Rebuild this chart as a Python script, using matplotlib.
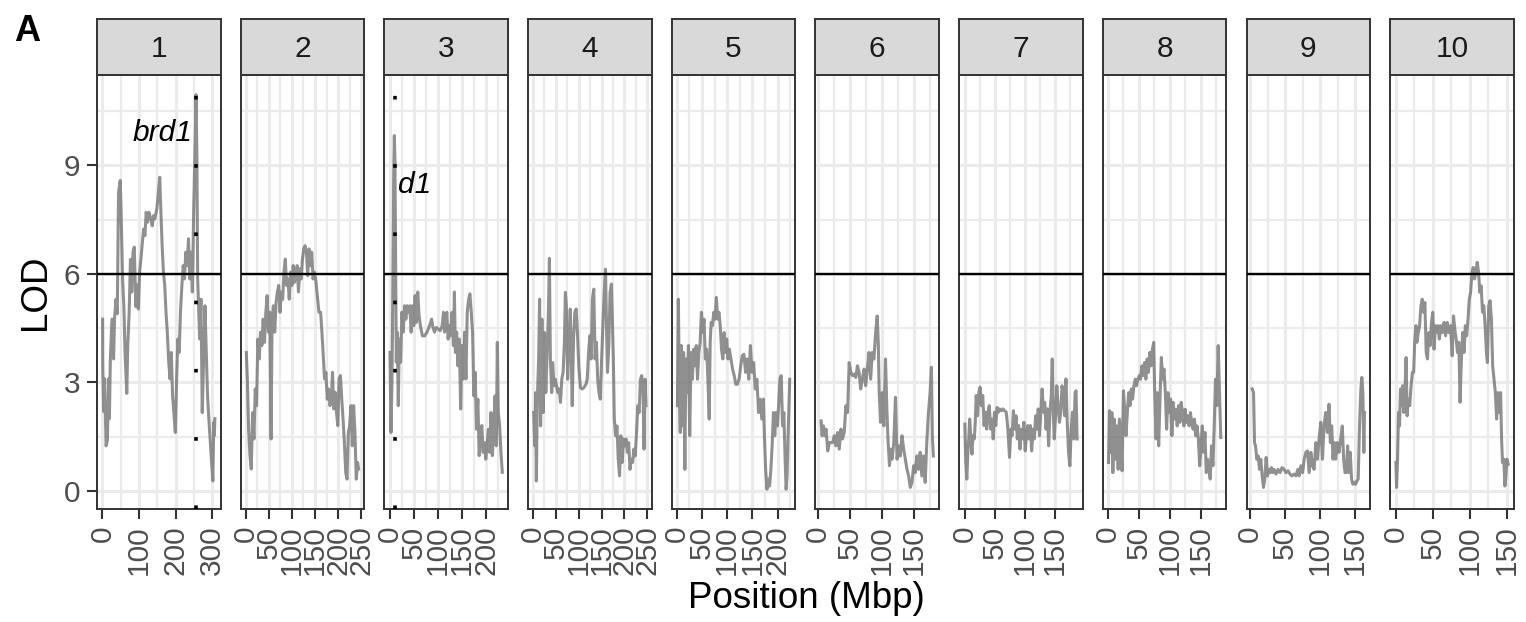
import matplotlib
matplotlib.use("Agg")
import matplotlib.pyplot as plt
from matplotlib.ticker import FixedLocator, NullFormatter

plt.rcParams['font.family'] = ['Liberation Sans', 'DejaVu Sans']

# ---------------- data ----------------
chromosomes = ['1', '2', '3', '4', '5', '6', '7', '8', '9', '10']

chr1_pos = [0.5, 1, 3.5, 6, 10, 13.5, 17, 19, 21.5, 26, 30.5, 33, 37, 40.5, 44, 48.5, 51, 55, 58.5, 62,
            66.5, 69, 73, 76.5, 80, 83.5, 87, 91, 94.5, 98, 101.5, 105, 109, 112.5, 116, 119.5, 123, 127,
            132, 136, 139.5, 143, 148.5, 152, 156.5, 159, 163, 166.5, 170, 173.5, 177, 181, 184.5, 188,
            191.5, 195, 199, 202.5, 206, 209.5, 213, 217, 220.5, 224, 227.5, 231, 235, 238.5, 242, 245.5,
            249, 253, 255.5, 258, 260, 263, 265.5, 269, 272.5, 276, 280, 283.5, 287, 290.5, 294, 298,
            301.5, 304, 305.5, 307]
chr1_lod = [4.75, 3.4, 2.2, 3.1, 1.25, 1.4, 3.1, 2.0, 3.6, 4.75, 3.65, 4.75, 5.3, 4.9, 8.25, 8.58, 7.7,
            5.86, 5.1, 3.74, 2.7, 4.0, 4.94, 6.4, 5.5, 6.6, 6.74, 5.1, 5.7, 5.03, 6.05, 6.4, 6.87, 7.24,
            7.06, 7.7, 7.43, 7.7, 7.52, 7.33, 7.61, 7.52, 7.8, 8.16, 8.67, 7.89, 6.78, 6.05, 5.7, 4.94,
            4.4, 3.56, 3.1, 3.83, 2.63, 2.17, 1.62, 3.1, 4.2, 3.83, 4.94, 5.7, 6.23, 5.86, 6.6, 6.23,
            6.97, 5.86, 6.6, 5.5, 7.7, 9.55, 10.95, 9.1, 5.86, 4.94, 4.2, 5.3, 2.17, 3.56, 5.12, 3.83,
            2.63, 2.0, 1.44, 0.79, 0.28, 1.9, 1.53, 2.0]

chr2_pos = [1.4, 3.6, 6.4, 9.3, 12.1, 15, 17.9, 20.7, 23.6, 26.4, 29.3, 32.1, 35, 37.8, 40.7, 43.6, 46.4,
            49.3, 52.1, 55, 57.1, 60, 62.8, 65.7, 68.5, 71.4, 74.3, 77.1, 80, 82.8, 85.7, 88.5, 91.4,
            94.2, 97.1, 100, 102.8, 105.7, 108.5, 111.4, 114.2, 117.1, 120, 122.8, 125.7, 128.5, 131.4,
            134.2, 137.1, 139.9, 142.8, 145.7, 148.5, 151.4, 154.9, 158.5, 162.1, 164.9, 167.8, 170.6,
            173.5, 176.4, 179.2, 182.1, 184.9, 187.8, 190.6, 193.5, 196.4, 199.2, 202.1, 204.9, 207.8,
            210.6, 213.5, 216.3, 219.2, 222.1, 224.9, 227.8, 230.6, 233.5, 236.3, 239.2, 242, 244.2]
chr2_lod = [3.83, 3.1, 1.71, 0.98, 0.61, 2.17, 1.44, 2.82, 2.36, 4.2, 3.65, 4.39, 4.02, 4.75, 4.11, 4.94,
            5.4, 4.39, 4.94, 1.44, 4.75, 5.12, 4.39, 5.2, 5.5, 5.68, 4.94, 5.5, 5.3, 6.05, 6.41, 5.68,
            5.86, 5.3, 6.05, 5.68, 6.23, 5.77, 5.95, 6.23, 5.5, 6.14, 5.86, 6.41, 6.69, 6.78, 6.6, 5.95,
            6.69, 6.23, 6.6, 5.86, 6.05, 5.86, 5.4, 4.94, 4.94, 4.39, 3.74, 3.1, 3.28, 2.54, 2.82, 2.36,
            2.45, 3.28, 2.27, 2.73, 2.17, 1.81, 3.1, 3.19, 2.54, 2.0, 1.34, 0.52, 0.33, 1.62, 1.81, 2.36,
            1.25, 2.36, 1.62, 0.33, 0.79, 0.61]

chr3_pos = [0.75, 2.8, 4.9, 6.9, 8.3, 9.7, 11, 12.4, 13.8, 15.8, 17.9, 19.9, 22.7, 25.4, 28.2, 30.9, 33.6,
            36.4, 39.1, 41.9, 44.6, 47.3, 50.1, 52.8, 55.6, 58.3, 61, 63.8, 67.9, 72.7, 77.5, 82.9, 87.1,
            89.8, 93.2, 96.7, 100.8, 104.9, 109, 111.7, 113.8, 115.8, 118.6, 121.3, 124.1, 126.8, 129.5,
            132.3, 134.3, 136.4, 139.1, 141.8, 144.6, 147.3, 150.1, 152.8, 155.6, 158.3, 161, 163.8,
            166.5, 169.3, 172, 174.7, 177.5, 180.2, 183, 185.7, 188.4, 191.2, 193.9, 196.7, 199.4, 202.1,
            204.9, 207.6, 210.3, 213.1, 215.8, 218.6, 221.3, 223.4, 225.4, 228.2, 230.9, 233.7]
chr3_lod = [3.83, 1.62, 3.1, 5.86, 8.63, 9.82, 9.1, 6.32, 3.56, 4.39, 2.36, 4.2, 3.56, 4.94, 4.39, 5.12,
            4.75, 5.12, 4.94, 5.12, 4.39, 5.12, 4.57, 5.4, 4.66, 5.5, 4.85, 4.57, 4.29, 4.29, 4.39, 4.57,
            4.75, 4.52, 4.39, 4.52, 4.48, 4.43, 4.57, 4.94, 4.39, 4.66, 4.94, 4.2, 4.57, 4.29, 4.94, 4.02,
            5.5, 3.83, 4.39, 3.46, 4.2, 2.27, 4.02, 3.1, 4.39, 3.1, 4.94, 5.3, 5.45, 4.94, 4.39, 2.63,
            3.28, 1.71, 2.54, 0.98, 1.44, 1.81, 1.07, 1.34, 0.88, 1.25, 1.71, 1.07, 2.17, 0.98, 1.62,
            2.63, 1.25, 4.11, 2.17, 1.81, 1.07, 0.52]

chr4_pos = [1.4, 3.6, 5.7, 7.2, 9.3, 12.2, 14.3, 16.4, 19.3, 22.2, 25, 27.9, 30.7, 33.6, 35.8, 37.9, 40.8,
            42.9, 45.8, 48.6, 51.5, 54.3, 57.2, 60.1, 62.9, 65.8, 68.6, 70.8, 72.9, 75.8, 78.7, 81.5,
            83.7, 85.8, 88.7, 91.5, 94.4, 97.2, 100.1, 103.7, 107.3, 111.5, 115.8, 118.7, 121.6, 124.4,
            127.3, 130.1, 133, 135.9, 138.7, 141.6, 144.4, 147.3, 150.2, 153, 155.9, 158.7, 160.9, 163,
            165.9, 168.7, 171.6, 173.7, 175.9, 178, 180.9, 183.8, 186.6, 189.5, 192.3, 195.2, 198.1,
            200.9, 203.8, 206.6, 209.5, 212.4, 215.2, 218.1, 220.9, 223.8, 226.7, 229.5, 232.4, 235.2,
            238.1, 241, 243.1, 245.2, 247.4]
chr4_lod = [2.17, 1.25, 2.72, 0.28, 2.54, 3.65, 5.3, 1.8, 4.75, 2.17, 4.38, 2.72, 3.83, 4.94, 6.43, 3.65,
            2.72, 3.55, 2.91, 3.09, 2.91, 2.72, 2.82, 2.45, 3.09, 3.28, 4.11, 5.49, 5.12, 3.09, 4.11,
            5.03, 3.74, 2.36, 4.2, 4.94, 5.03, 4.38, 3.46, 2.86, 2.82, 2.86, 2.95, 3.09, 3.83, 4.29,
            3.65, 5.3, 5.58, 3.65, 4.11, 3.09, 2.72, 2.54, 3.65, 4.57, 5.49, 6.13, 4.57, 3.28, 4.02,
            5.49, 5.72, 4.75, 3.65, 1.99, 1.53, 1.8, 0.88, 0.42, 1.53, 0.79, 1.44, 1.25, 1.44, 1.07,
            1.34, 0.6, 0.88, 0.79, 1.16, 0.97, 1.62, 2.36, 2.17, 3.09, 3.19, 2.72, 1.16, 3.09, 2.36]

chr5_pos = [1, 2.9, 4.9, 6.8, 8.7, 10.7, 13.3, 15.8, 17.8, 20.4, 22.9, 25.5, 28.1, 30.7, 33.3, 35.8, 38.4,
            41, 43.6, 46.2, 48.7, 51.3, 53.9, 56.5, 59.1, 61.6, 64.2, 66.1, 68.1, 70.7, 73.2, 75.8, 78.4,
            81, 83.6, 86.1, 88.7, 91.3, 93.9, 96.5, 99, 101.6, 104.2, 107.4, 110.7, 113.9, 117.1, 120.3,
            123.6, 126.8, 130, 133.2, 136.5, 139.7, 142.9, 146.1, 149.4, 152.6, 155.8, 159, 162.3, 165.5,
            168.7, 171.9, 173.9, 176.4, 179, 181.6, 184.2, 186.8, 189.3, 191.9, 194.5, 197.1, 199.7,
            202.2, 204.8, 207.4, 210, 212.6, 215.1, 217.1, 219, 221.6, 224.2]
chr5_lod = [2.36, 5.3, 2.72, 1.62, 4.02, 1.8, 3.83, 0.6, 3.65, 2.72, 4.02, 1.53, 3.83, 3.09, 3.92, 3.46,
            4.02, 3.09, 3.83, 4.11, 4.94, 4.38, 4.75, 3.65, 3.92, 3.09, 1.99, 4.11, 4.66, 4.57, 4.94,
            4.75, 5.35, 4.75, 4.94, 4.57, 3.92, 3.65, 4.38, 3.83, 4.2, 3.65, 3.92, 3.65, 3.37, 3.19, 2.95,
            2.95, 3.09, 3.46, 3.74, 3.78, 3.28, 3.65, 3.09, 4.02, 3.28, 3.55, 2.82, 3.09, 2.17, 2.54,
            1.99, 2.54, 1.53, 0.6, 0.05, 0.33, 0.14, 0.6, 1.25, 2.17, 1.53, 2.17, 1.8, 2.36, 3.09, 3.19,
            1.8, 2.17, 0.88, 0.05, 0.42, 1.8, 3.09]

chr6_pos = [5.2, 6.7, 8.8, 10.9, 12.9, 15.5, 18.1, 20.6, 23.2, 25.8, 28.3, 30.9, 33.5, 36.1, 38.6, 41.2,
            43.8, 46.4, 48.9, 51.5, 54.1, 56.6, 59.2, 61.8, 64.4, 66.9, 69.5, 72.1, 74.6, 77.2, 79.8,
            82.4, 84.9, 87.5, 90.1, 92.6, 94.2, 95.7, 97.8, 100.3, 102.9, 105.5, 107.6, 109.6, 111.7,
            113.7, 115.8, 118.4, 121, 123.5, 126.1, 128.7, 131.2, 133.8, 136.4, 139, 141.5, 144.1, 146.7,
            149.3, 151.8, 154.4, 157, 159.5, 162.1, 164.7, 167.3, 169.8, 172.4, 175, 177, 178.6, 180.1]
chr6_lod = [1.94, 1.53, 1.8, 1.53, 1.71, 1.11, 1.34, 1.34, 1.34, 1.53, 1.25, 1.62, 1.16, 1.71, 1.44, 1.62,
            2.36, 2.17, 3.55, 3.28, 3.19, 3.23, 3.14, 3.46, 3.28, 2.82, 3.09, 3.37, 2.91, 3.37, 3.83,
            3.09, 3.83, 3.65, 4.38, 4.84, 4.11, 2.72, 1.9, 2.72, 1.8, 3.65, 2.26, 1.34, 0.7, 1.16, 0.88,
            1.34, 2.59, 0.88, 1.25, 0.97, 1.53, 1.16, 0.88, 0.6, 0.42, 0.1, 0.24, 0.7, 0.51, 0.97, 0.6,
            1.07, 0.42, 0.97, 0.24, 1.34, 2.17, 2.72, 3.42, 1.44, 0.97]

chr7_pos = [0.5, 2.1, 3.8, 5.4, 7, 8.6, 10.3, 12.4, 14.1, 16.3, 17.9, 19.5, 21.7, 23.9, 26, 28.2, 30.4,
            32.6, 34.7, 36.9, 39.1, 41.3, 43.4, 45.6, 47.8, 49.9, 52.1, 54.3, 56.5, 58.7, 61.4, 64.1,
            66.8, 69.5, 72.3, 75, 77.2, 79.3, 81.5, 83.7, 85.9, 88, 90.2, 92.4, 94.6, 96.7, 98.9, 101.1,
            103.3, 105.4, 107.6, 109.8, 111.9, 114.1, 116.3, 118.5, 120.7, 122.8, 125, 127.2, 129.4,
            131.5, 133.7, 135.9, 138.1, 140.2, 142.4, 144.6, 146.2, 147.9, 149.5, 151.7, 153.8, 156,
            158.2, 160.4, 162.5, 164.7, 166.9, 169, 171.2, 173.4, 175.6, 177.8, 179.9, 182.1, 184.3,
            185.9, 187.6]
chr7_lod = [1.85, 0.79, 0.33, 0.98, 1.44, 1.99, 1.53, 1.02, 1.53, 1.44, 1.9, 2.64, 2.08, 2.73, 2.87, 2.36,
            2.64, 1.81, 2.18, 1.71, 2.18, 2.36, 1.71, 1.99, 1.44, 2.18, 1.81, 2.31, 2.18, 2.27, 2.22,
            2.27, 2.22, 2.18, 1.71, 0.93, 1.71, 1.53, 2.22, 1.71, 2.08, 1.44, 1.81, 1.16, 1.71, 1.44,
            1.9, 1.11, 1.53, 1.81, 1.44, 1.81, 1.11, 1.71, 1.44, 2.08, 1.71, 2.27, 1.53, 2.18, 2.82,
            2.18, 2.45, 1.71, 2.27, 1.25, 2.18, 2.64, 3.65, 2.18, 1.44, 2.08, 2.91, 2.36, 1.9, 2.18,
            2.91, 2.64, 2.08, 3.1, 1.9, 1.07, 0.7, 1.71, 2.18, 1.44, 2.73, 2.77, 1.44]

chr8_pos = [1.6, 3.2, 4.9, 7, 8.6, 10.7, 12.8, 15, 17.1, 19.2, 21.3, 23.4, 25.6, 27.7, 29.8, 31.9, 34.1,
            36.2, 38.3, 40.4, 42.5, 44.7, 46.8, 48.9, 51.1, 53.2, 55.3, 57.4, 59.6, 61.7, 63.8, 65.9,
            68.1, 70.2, 72.3, 74.4, 76, 78.2, 80.3, 82.4, 84.6, 86.7, 88.8, 90.9, 93.1, 95.2, 97.3, 99.5,
            101.6, 103.7, 105.8, 108, 110.1, 112.2, 114.3, 116.5, 118.6, 120.7, 122.9, 125, 127.1, 129.2,
            131.4, 133.5, 135.6, 137.7, 139.9, 142, 144.1, 146.3, 148.4, 150.5, 152.6, 154.8, 156.9,
            159, 161.1, 163.3, 165.4, 167.5, 169.7, 171.8, 173.9, 176, 178.2, 180.3, 182.4]
chr8_lod = [0.79, 2.22, 1.07, 2.17, 0.51, 1.99, 0.88, 1.8, 0.6, 1.99, 1.44, 0.56, 2.77, 2.26, 1.53, 2.17,
            2.72, 2.36, 2.82, 2.54, 2.91, 3.09, 2.91, 3.09, 3.19, 3.09, 3.46, 3.19, 3.55, 3.09, 3.65,
            3.28, 3.83, 3.46, 3.92, 4.11, 2.72, 1.44, 2.72, 1.25, 2.63, 3.69, 3.09, 3.37, 2.72, 1.71,
            2.72, 2.17, 2.54, 1.53, 2.45, 1.99, 2.26, 1.8, 2.36, 1.9, 2.45, 2.17, 1.8, 2.26, 1.9, 2.08,
            1.8, 2.17, 1.9, 1.71, 1.99, 1.53, 1.8, 1.44, 0.7, 1.25, 1.8, 1.07, 1.62, 0.51, 0.88, 0.6,
            0.33, 1.25, 0.7, 1.8, 3.09, 2.36, 4.02, 2.72, 1.48]

chr9_pos = [2.8, 4.7, 6.1, 7.5, 9.4, 11.4, 13.2, 15.1, 17, 18.9, 20.8, 22.7, 24.6, 26.5, 28.4, 30.3, 32.1,
            34, 36.9, 39.7, 42.6, 45.4, 48.3, 51.1, 53.9, 56.8, 59.6, 62.5, 65.3, 68.1, 70, 72.4, 74.8,
            77.1, 79.5, 81.8, 84.2, 86.6, 89, 91.3, 93.7, 96, 98.4, 100.8, 103.2, 105.5, 107.9, 110.3,
            112.6, 114.5, 116.4, 118.3, 120.2, 122.1, 124.5, 126.9, 129.2, 131.6, 133.5, 135.4, 137.3,
            139.2, 141.1, 143, 144.8, 146.7, 148.6, 150.5, 152.4, 154.3, 156.2, 158.1, 159.5, 161,
            162.4, 163.3]
chr9_lod = [2.82, 2.72, 1.34, 1.25, 0.88, 0.97, 0.6, 0.88, 0.42, 0.1, 0.33, 0.93, 0.42, 0.6, 0.51, 0.65,
            0.51, 0.6, 0.47, 0.6, 0.51, 0.65, 0.6, 0.51, 0.56, 0.47, 0.42, 0.47, 0.42, 0.6, 0.42, 0.7,
            0.51, 0.88, 1.07, 1.11, 0.51, 1.07, 0.7, 0.6, 1.34, 0.88, 1.44, 1.9, 0.88, 1.8, 2.17, 1.62,
            2.4, 1.34, 1.8, 0.88, 1.34, 0.88, 1.34, 1.07, 1.44, 1.8, 0.88, 0.51, 0.51, 1.25, 0.51, 1.07,
            0.33, 0.19, 0.24, 0.19, 0.28, 0.33, 1.8, 2.82, 3.14, 2.72, 1.07, 2.17]

chr10_pos = [0.5, 1.4, 2.7, 4, 5.4, 6.7, 8, 9.4, 11.1, 12.9, 14.2, 15.6, 17.3, 19.1, 20.9, 22.7, 24.4,
             25.8, 27.5, 28.9, 30.6, 32.4, 34.2, 36, 37.7, 39.5, 41.3, 43, 44.8, 46.6, 48.4, 50.1, 51.9,
             53.7, 55.5, 57.2, 59, 60.8, 63, 65.2, 67.4, 69.6, 71.9, 74.1, 76.3, 78.1, 79.8, 81.6, 83.4,
             85.2, 86.9, 88.7, 90.5, 92.3, 94, 95.8, 97.6, 99.3, 101.1, 102.9, 104.7, 106.4, 108.2, 110,
             111.8, 113.5, 115.3, 117.1, 118.9, 120.6, 122.4, 123.7, 125.5, 127.3, 129.1, 130.8, 132.6,
             134.4, 136.1, 137.9, 139.7, 141.5, 142.8, 144.1, 145.9, 147.2, 148.6, 149.9, 151.7]
chr10_lod = [0.79, 0.1, 0.88, 2.17, 1.8, 2.82, 2.36, 2.91, 2.17, 2.91, 3.69, 2.08, 2.54, 2.36, 2.91, 3.28,
             3.28, 4.11, 4.57, 4.11, 4.38, 4.57, 5.12, 5.3, 4.94, 5.21, 3.83, 3.65, 4.38, 4.02, 4.66,
             4.94, 3.92, 4.57, 4.38, 4.57, 4.2, 4.57, 4.38, 4.66, 4.29, 4.66, 4.38, 4.57, 3.74, 4.84,
             4.48, 4.2, 3.83, 4.11, 2.45, 3.65, 4.38, 3.83, 4.57, 4.29, 4.75, 5.3, 5.49, 6.04, 6.18,
             5.86, 6.04, 6.32, 6.04, 5.49, 5.67, 4.94, 5.12, 4.57, 3.83, 3.55, 5.12, 5.26, 4.75, 3.46,
             3.09, 2.72, 1.99, 2.72, 2.17, 2.72, 1.44, 0.79, 0.88, 0.14, 0.42, 0.88, 0.74]

positions = [chr1_pos, chr2_pos, chr3_pos, chr4_pos, chr5_pos,
             chr6_pos, chr7_pos, chr8_pos, chr9_pos, chr10_pos]
lods = [chr1_lod, chr2_lod, chr3_lod, chr4_lod, chr5_lod,
        chr6_lod, chr7_lod, chr8_lod, chr9_lod, chr10_lod]

lod_threshold = 6
gene_names = ['brd1', 'd1']
gene_chrom = ['1', '3']
gene_pos = [256, 11]

y_major = [0, 3, 6, 9]
y_minor = [1.5, 4.5, 7.5, 10.5]

# ---------------- layout ----------------
W, H = 1526, 622
fig = plt.figure(figsize=(W / 100, H / 100), dpi=100)
fig.patch.set_facecolor('white')

all_lod = [v for l in lods for v in l]
ylo, yhi = min(all_lod), max(all_lod)
ypad = 0.05 * (yhi - ylo)

tick_fs = 21.5
title_fs = 26.5
border_c = '#333333'
grid_c = '#EBEBEB'

for i, ch in enumerate(chromosomes):
    left = (97 + i * 143.7) / W
    width = 123.5 / W
    ax = fig.add_axes([left, (H - 509) / H, width, 434 / H])
    sax = fig.add_axes([left, (H - 75) / H, width, 56 / H])

    pos = positions[i]
    lod = lods[i]
    xlo, xhi = min(pos), max(pos)
    xpad = 0.05 * (xhi - xlo)
    ax.set_xlim(xlo - xpad, xhi + xpad)
    ax.set_ylim(ylo - ypad, yhi + ypad)

    step = 100 if ch == '1' else 50
    majors = [v for v in range(0, 400, step)]
    minors = [v + step / 2 for v in majors]
    ax.xaxis.set_major_locator(FixedLocator(majors))
    ax.xaxis.set_minor_locator(FixedLocator(minors))
    ax.yaxis.set_major_locator(FixedLocator(y_major))
    ax.yaxis.set_minor_locator(FixedLocator(y_minor))
    ax.xaxis.set_minor_formatter(NullFormatter())
    ax.yaxis.set_minor_formatter(NullFormatter())

    ax.set_axisbelow(True)
    ax.grid(True, which='major', color=grid_c, linewidth=2.2)
    ax.grid(True, which='minor', color=grid_c, linewidth=1.6)

    ax.plot(pos, lod, color='#666666', alpha=0.72, linewidth=2.2,
            solid_joinstyle='round', zorder=3)
    ax.axhline(lod_threshold, color='black', linewidth=1.7, zorder=4)

    for g, gc, gp in zip(gene_names, gene_chrom, gene_pos):
        if gc == ch:
            ax.axvline(gp, color='black', linewidth=2.6,
                       linestyle=(0, (1, 17.9)), dash_capstyle='butt', zorder=5)
            if g == 'brd1':
                ax.text(gp - 10, 9.9, g, style='italic', fontsize=tick_fs,
                        ha='right', va='center', color='black', zorder=6)
            else:
                ax.text(gp + 6, 8.45, g, style='italic', fontsize=tick_fs,
                        ha='left', va='center', color='black', zorder=6)

    for s in ax.spines.values():
        s.set_color(border_c)
        s.set_linewidth(1.4)

    ax.tick_params(axis='x', which='major', length=7, width=1.5, color=border_c,
                   labelsize=tick_fs, labelcolor='#4D4D4D', pad=5, labelrotation=90)
    ax.tick_params(which='minor', length=0)
    if i == 0:
        ax.tick_params(axis='y', which='major', length=7, width=1.5, color=border_c,
                       labelsize=tick_fs, labelcolor='#4D4D4D', pad=5)
    else:
        ax.tick_params(axis='y', which='major', length=0, labelleft=False)
    for lab in ax.get_xticklabels():
        lab.set_verticalalignment('top')
        lab.set_horizontalalignment('center')

    # strip
    sax.set_facecolor('#D9D9D9')
    sax.set_xticks([])
    sax.set_yticks([])
    for s in sax.spines.values():
        s.set_color(border_c)
        s.set_linewidth(1.4)
    sax.text(0.5, 0.47, ch, transform=sax.transAxes, ha='center', va='center',
             fontsize=tick_fs, color='#1A1A1A')

# titles
fig.text(45 / W, 1 - 292 / H, 'LOD', rotation=90, rotation_mode='anchor',
         ha='center', va='baseline', fontsize=title_fs, color='black')
fig.text(806 / W, 14 / H, 'Position (Mbp)', ha='center', va='baseline',
         fontsize=title_fs, color='black')
fig.text(14 / W, 1 - 41 / H, 'A', ha='left', va='baseline', fontsize=26,
         fontweight='bold', color='black')

fig.savefig('out.png', dpi=100, facecolor='white')
